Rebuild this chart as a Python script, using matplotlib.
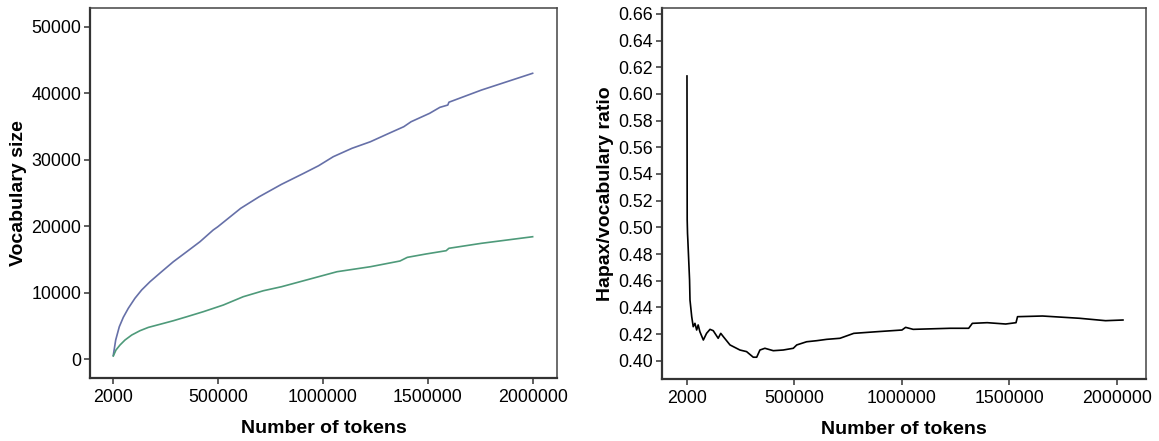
import numpy as np
import matplotlib
matplotlib.use("Agg")
from matplotlib import pyplot as plt

plt.rcParams['font.family'] = ['Liberation Sans', 'DejaVu Sans']

# Vocabulary growth: tokens read vs. distinct words
vocab_tokens = [2000, 13400, 30600, 49600, 73500, 105000, 137000, 177000, 232000,
                288000, 352000, 415000, 478000, 500000, 609000, 697000, 803000,
                909000, 980000, 1050000, 1139000, 1227000, 1315000, 1386000,
                1421000, 1509000, 1558000, 1596000, 1601000, 1756000, 2000000]
vocab_all = [600, 2900, 4900, 6310, 7670, 9170, 10420, 11670, 13170,
             14670, 16180, 17680, 19440, 19930, 22700, 24440, 26300,
             27960, 29100, 30460, 31720, 32710, 33970, 34970,
             35720, 36980, 37880, 38230, 38650, 40480, 43000]

hapax_tokens = [2000, 14800, 33900, 57700, 89700, 129000, 169000, 224000, 288000,
                352000, 431000, 526000, 621000, 717000, 803000, 980000, 1068000,
                1227000, 1368000, 1403000, 1491000, 1588000, 1601000, 1756000, 2000000]
vocab_hapax = [500, 1400, 2150, 2900, 3650, 4300, 4800, 5260, 5800,
               6400, 7160, 8160, 9410, 10310, 10910, 12420, 13170,
               13920, 14780, 15330, 15830, 16330, 16690, 17440, 18430]

# Hapax/vocabulary ratio
ratio_tokens = [2000, 3000, 4500, 6000, 14000, 16000, 24000, 31000, 39000, 47000,
                54000, 62000, 78000, 93000, 109000, 124000, 147000, 159000, 171000,
                202000, 248000, 279000, 310000, 326000, 341000, 364000, 403000,
                449000, 496000, 512000, 558000, 605000, 651000, 713000, 777000,
                881000, 1001000, 1018000, 1053000, 1225000, 1311000, 1328000,
                1397000, 1483000, 1531000, 1538000, 1654000, 1826000, 1947000, 2028000]
ratio = [0.6135, 0.5055, 0.4955, 0.4905, 0.4605, 0.4455, 0.433, 0.4255, 0.428, 0.423,
         0.4268, 0.4217, 0.4155, 0.4205, 0.4235, 0.4225, 0.4168, 0.4205, 0.418,
         0.4118, 0.408, 0.4068, 0.4026, 0.4026, 0.408, 0.4093, 0.4075,
         0.408, 0.4093, 0.4118, 0.4142, 0.415, 0.416, 0.4168, 0.4205,
         0.4217, 0.423, 0.425, 0.4235, 0.4243, 0.4243, 0.428,
         0.4285, 0.4275, 0.4285, 0.433, 0.4335, 0.4318, 0.430, 0.4305]

xticks = [2000, 500000, 1000000, 1500000, 2000000]
xticklabels = ['2000', '500000', '1000000', '1500000', '2000000']


def style_axes(ax):
    for side in ('left', 'bottom'):
        ax.spines[side].set_color('#333333')
        ax.spines[side].set_linewidth(1.6)
    for side in ('top', 'right'):
        ax.spines[side].set_color('#444444')
        ax.spines[side].set_linewidth(1.1)
    ax.tick_params(axis='both', which='major', labelsize=12.8, length=4.5,
                   width=1.1, color='#333333', top=False, right=False)
    ax.tick_params(axis='y', pad=1.5)
    ax.tick_params(axis='x', pad=3.5)
    ax.set_xticks(xticks)
    ax.set_xticklabels(xticklabels)
    ax.set_xlabel('Number of tokens', fontsize=14, fontweight='bold', labelpad=10)


fig = plt.figure(dpi=100, figsize=(11.59, 4.41))

# Left: vocabulary size
ax1 = fig.add_axes([0.0774, 0.1435, 0.4034, 0.8376])
ax1.plot(vocab_tokens, vocab_all, color='#6670a8', lw=1.2)
ax1.plot(hapax_tokens, vocab_hapax, color='#4e9a7a', lw=1.2)
ax1.set_xlim(-110400, 2117300)
ax1.set_ylim(-2766, 52766)
ax1.set_yticks([0, 10000, 20000, 30000, 40000, 50000])
ax1.set_yticklabels(['0', '10000', '20000', '30000', '40000', '50000'])
ax1.set_ylabel('Vocabulary size', fontsize=14, fontweight='bold', labelpad=3)
style_axes(ax1)

# Right: hapax/vocabulary ratio
ax2 = fig.add_axes([0.5709, 0.1413, 0.4176, 0.840])
ax2.plot(ratio_tokens, ratio, color='black', lw=1.2)
ax2.set_xlim(-115600, 2133500)
ax2.set_ylim(0.3865, 0.6643)
yt = np.arange(0.40, 0.661, 0.02)
ax2.set_yticks(yt)
ax2.set_yticklabels(['%.2f' % v for v in yt])
ax2.set_ylabel('Hapax/vocabulary ratio', fontsize=14, fontweight='bold', labelpad=3)
style_axes(ax2)

plt.savefig('out.png', dpi=100)
